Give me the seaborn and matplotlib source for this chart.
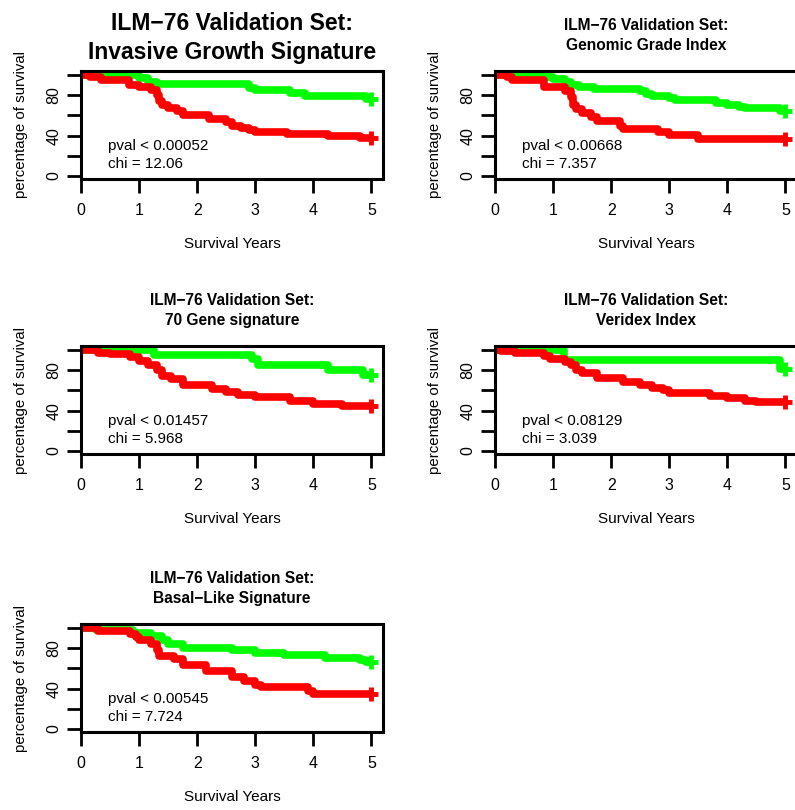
import seaborn as sns
import pandas as pd
import matplotlib.pyplot as plt
import numpy as np

sns.set_style("white")
plt.rcParams['font.family'] = ['Liberation Sans', 'DejaVu Sans']
plt.rcParams['text.color'] = 'black'
plt.rcParams['axes.labelcolor'] = 'black'
plt.rcParams['xtick.color'] = 'black'
plt.rcParams['ytick.color'] = 'black'

# panel titles and test results
titles = ["ILM\u221276 Validation Set:\nInvasive Growth Signature",
          "ILM\u221276 Validation Set:\nGenomic Grade Index",
          "ILM\u221276 Validation Set:\n70 Gene signature",
          "ILM\u221276 Validation Set:\nVeridex Index",
          "ILM\u221276 Validation Set:\nBasal\u2212Like Signature"]
pvals = ["0.00052", "0.00668", "0.01457", "0.08129", "0.00545"]
chis = ["12.06", "7.357", "5.968", "3.039", "7.724"]

# Kaplan-Meier steps (years, % survival)
g1_t = [0, 1.0, 1.15, 1.3, 2.9, 3.0, 3.6, 3.85, 4.9, 5.0]
g1_s = [100, 97, 93, 91, 87, 85, 82, 79, 76, 76]
r1_t = [0, 0.15, 0.35, 0.83, 1.0, 1.2, 1.3, 1.35, 1.4, 1.5, 1.65, 1.75, 2.2, 2.5, 2.6, 2.75, 2.9, 3.0, 3.55, 4.25, 4.8, 5.0]
r1_s = [100, 98, 95, 90, 88, 85, 80, 74, 70, 67, 64, 60, 56, 53, 50, 48, 46, 44, 42, 40, 38, 38]

g2_t = [0, 0.9, 1.0, 1.2, 1.3, 1.45, 1.7, 2.5, 2.6, 2.7, 3.0, 3.1, 3.8, 4.0, 4.2, 4.3, 4.9, 5.0]
g2_s = [100, 98, 96, 93, 90, 88, 86, 84, 81, 79, 77, 75, 72, 70, 68, 67, 64, 64]
r2_t = [0, 0.2, 0.3, 0.85, 1.2, 1.3, 1.35, 1.4, 1.5, 1.65, 1.75, 2.15, 2.2, 2.8, 3.0, 3.5, 5.0]
r2_s = [100, 98, 95, 88, 84, 78, 70, 66, 62, 58, 54, 50, 47, 44, 41, 37, 37]

g3_t = [0, 1.25, 2.95, 3.05, 4.25, 4.85, 5.0]
g3_s = [100, 95, 91, 85, 80, 75, 75]
r3_t = [0, 0.3, 0.5, 0.85, 1.0, 1.15, 1.3, 1.4, 1.55, 1.75, 2.25, 2.5, 2.7, 3.0, 3.6, 4.0, 4.5, 5.0]
r3_s = [100, 97, 96, 93, 89, 85, 80, 74, 71, 65, 61, 58, 55, 53, 50, 47, 45, 45]

g4_t = [0, 1.18, 4.9, 5.0]
g4_s = [100, 90, 81, 81]
r4_t = [0, 0.1, 0.35, 0.85, 0.95, 1.2, 1.3, 1.4, 1.5, 1.75, 2.2, 2.5, 2.7, 2.9, 3.0, 3.7, 4.0, 4.3, 4.5, 5.0]
r4_s = [100, 99, 97, 94, 91, 88, 85, 80, 77, 72, 68, 65, 62, 60, 57, 54, 52, 50, 49, 49]

g5_t = [0, 0.25, 0.9, 1.2, 1.4, 1.5, 1.75, 2.6, 3.0, 3.5, 4.2, 4.8, 4.9, 5.0]
g5_s = [100, 98, 95, 92, 88, 84, 80, 78, 75, 73, 70, 68, 66, 66]
r5_t = [0, 0.3, 0.85, 0.95, 1.0, 1.2, 1.3, 1.35, 1.6, 1.75, 2.15, 2.6, 2.8, 3.0, 3.1, 3.9, 4.0, 5.0]
r5_s = [100, 97, 94, 91, 88, 84, 78, 72, 69, 63, 57, 51, 48, 44, 42, 38, 35, 35]

curves = [(g1_t, g1_s, r1_t, r1_s), (g2_t, g2_s, r2_t, r2_s), (g3_t, g3_s, r3_t, r3_s),
          (g4_t, g4_s, r4_t, r4_s), (g5_t, g5_s, r5_t, r5_s)]

fig = plt.figure(figsize=(7.95, 8.1), dpi=100)
W, H = 795, 810
col_left = [81, 495]
row_top = [71, 346, 624]
aw, ah = 302, 108

for i, (gt, gs, rt, rs) in enumerate(curves):
    r, c = divmod(i, 2)
    ax = fig.add_axes([col_left[c] / W, (H - row_top[r] - ah) / H, aw / W, ah / H])
    df = pd.concat([
        pd.DataFrame({'time': gt, 'surv': gs, 'group': 'low'}),
        pd.DataFrame({'time': rt, 'surv': rs, 'group': 'high'}),
    ])
    sns.lineplot(data=df, x='time', y='surv', hue='group', palette={'low': '#00ff00', 'high': '#ff0000'},
                 drawstyle='steps-post', linewidth=5.5, estimator=None, sort=False, legend=False, ax=ax)
    for t, s, col in [(gt, gs, '#00ff00'), (rt, rs, '#ff0000')]:
        ax.plot(t[-1], s[-1], marker='+', ms=10, mew=3.5, color=col, clip_on=False)

    ax.set_xlim(0, 5.2)
    ax.set_ylim(-3, 104)
    ax.set_xticks(range(6))
    ax.set_yticks([0, 20, 40, 60, 80, 100])
    ax.set_yticklabels(['0', '', '40', '', '80', ''], rotation=90, va='center')
    ax.tick_params(bottom=True, left=True, direction='out', length=10, width=2,
                   labelsize=11.5, colors='black')
    ax.tick_params(axis='y', pad=4)
    ax.tick_params(axis='x', pad=7)
    for sp in ax.spines.values():
        sp.set_linewidth(2.2)
        sp.set_color('black')

    ax.set_xlabel('Survival Years', fontsize=11)
    ax.set_ylabel('percentage of survival', fontsize=10.8)
    ax.xaxis.set_label_coords(0.5, -0.535)
    ax.yaxis.set_label_coords(-0.175, 0.5)

    ax.text(0.47, 30, 'pval < ' + pvals[i], fontsize=11, ha='left', va='center')
    ax.text(0.47, 12, 'chi = ' + chis[i], fontsize=11, ha='left', va='center')

    if i == 0:
        ax.set_title(titles[i], fontsize=16.5, fontweight='bold', pad=9, linespacing=1.3)
    else:
        ax.set_title(titles[i], fontsize=11.2, fontweight='bold', pad=15, linespacing=1.4)

fig.savefig('out.png', dpi=100)
